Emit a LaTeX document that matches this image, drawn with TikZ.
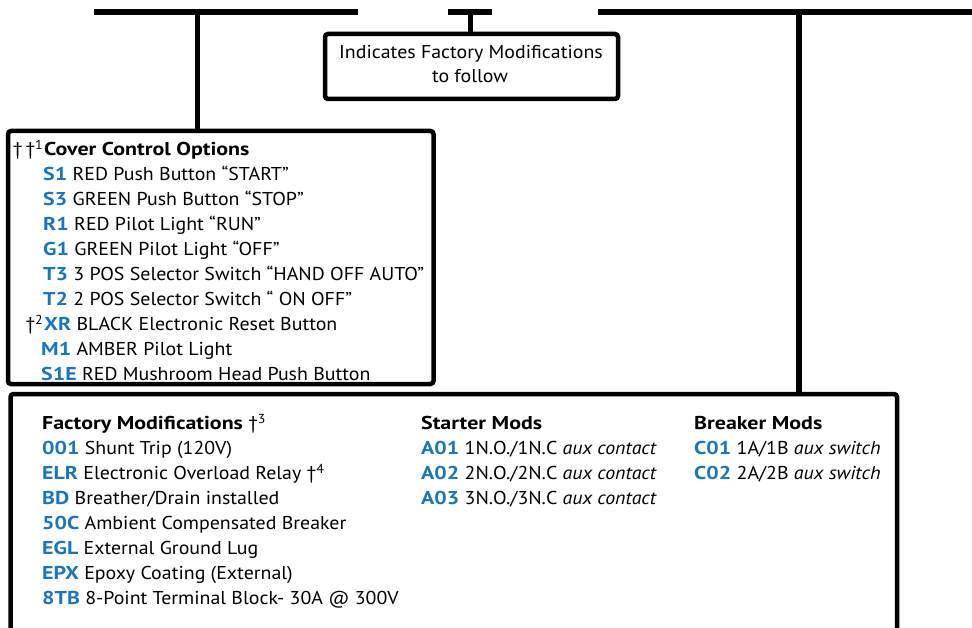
\documentclass[tikz,border=0pt]{standalone}
\usepackage{fontspec}
\setmainfont{PT Sans}[
  UprightFeatures={FakeStretch=1.07},
  ItalicFeatures={FakeStretch=1.07},
  BoldFeatures={FakeStretch=1.18}]
\definecolor{codeblue}{RGB}{27,117,187}
\newcommand{\cd}[1]{\textbf{\textcolor{codeblue}{#1}}}
\tikzset{
  bar/.style={line width=6pt},
  link/.style={line width=5.5pt},
  box/.style={draw, line width=4.5pt, rounded corners=3pt, inner sep=0pt},
  ln/.style={anchor=base west, inner sep=0pt, font=\fontsize{18.6}{22}\selectfont},
  tag/.style={anchor=base east, inner sep=0pt, font=\fontsize{18.6}{22}\selectfont},
  fl/.style={anchor=base west, inner sep=0pt, font=\fontsize{18.6}{22}\selectfont},
  nt/.style={anchor=base, inner sep=0pt, font=\fontsize{18.6}{22}\selectfont},
}
\begin{document}
\begin{tikzpicture}[x=1pt,y=-1pt]
\useasboundingbox (0,0) rectangle (972,628);
\clip (0,0) rectangle (972,628);
% top bars
\coordinate (bL1) at (94,11.7);  \coordinate (bL2) at (358,11.7);
\coordinate (bM1) at (448,11.7); \coordinate (bM2) at (492,11.7);
\coordinate (bR1) at (598,11.7); \coordinate (bR2) at (985,11.7);
\draw[bar] (bL1) -- (bL2);
\draw[bar] (bM1) -- (bM2);
\draw[bar] (bR1) -- (bR2);
% boxes
\node[box, minimum width=293pt, minimum height=65pt] (note) at (471.5,66.5) {};
\node[box, minimum width=425.5pt, minimum height=253pt] (cover) at (220.75,257.5) {};
\node[box, minimum width=886.5pt, minimum height=266pt] (fact) at (453.75,527) {};
% connectors
\coordinate (jL) at (197.5,11.7);
\coordinate (jM) at (470.5,11.7);
\coordinate (jR) at (799,11.7);
\draw[link] (jL) -- (jL |- cover.north);
\draw[link] (jM) -- (jM |- note.north);
\draw[link] (jR) -- (jR |- fact.north);
% note text
\node[nt] (n1) at (471,58.5) {Indicates Factory Modifications};
\node[nt] (n2) at (470,83) {to follow};
% cover control options
\node[ln] (cct) at (44,155.5) {\textbf{Cover Control Options}};
\node[tag] (cctag) at ([xshift=-0.5pt]cct.base west) {†\,†\textsuperscript{1}};
\node[ln] (c1) at (43,180.5) {\cd{S1} RED Push Button “START”};
\node[ln] (c2) at (43,205.5) {\cd{S3} GREEN Push Button “STOP”};
\node[ln] (c3) at (43,230.5) {\cd{R1} RED Pilot Light “RUN”};
\node[ln] (c4) at (43,255.5) {\cd{G1} GREEN Pilot Light “OFF”};
\node[ln] (c5) at (43,280.5) {\cd{T3} 3 POS Selector Switch “HAND OFF AUTO”};
\node[ln] (c6) at (43,305.5) {\cd{T2} 2 POS Selector Switch “ ON OFF”};
\node[ln] (c7) at (44,330.5) {\cd{XR} BLACK Electronic Reset Button};
\node[tag] (c7tag) at ([xshift=-0.5pt]c7.base west) {†\textsuperscript{2}};
\node[ln] (c8) at (41,355.5) {\cd{M1} AMBER Pilot Light};
\node[ln] (c9) at (41,380.5) {\cd{S1E} RED Mushroom Head Push Button};
% factory modifications
\node[fl] (ft) at (42,429.5) {\textbf{Factory Modifications} †\textsuperscript{3}};
\node[fl] (f1) at (42,454.5) {\cd{001} Shunt Trip (120V)};
\node[fl] (f2) at (42,479.5) {\cd{ELR} Electronic Overload Relay †\textsuperscript{4}};
\node[fl] (f3) at (42,504.5) {\cd{BD} Breather/Drain installed};
\node[fl] (f4) at (42,529.5) {\cd{50C} Ambient Compensated Breaker};
\node[fl] (f5) at (42,554.5) {\cd{EGL} External Ground Lug};
\node[fl] (f6) at (42,579.5) {\cd{EPX} Epoxy Coating (External)};
\node[fl] (f7) at (42,604.5) {\cd{8TB} 8-Point Terminal Block- 30A @ 300V};
% starter mods
\node[fl] (st) at (421,429.5) {\textbf{Starter Mods}};
\node[fl] (s1) at (421,454.5) {\cd{A01} 1N.O./1N.C \textit{aux contact}};
\node[fl] (s2) at (421,479.5) {\cd{A02} 2N.O./2N.C \textit{aux contact}};
\node[fl] (s3) at (421,504.5) {\cd{A03} 3N.O./3N.C \textit{aux contact}};
% breaker mods
\node[fl] (bt) at (694,429.5) {\textbf{Breaker Mods}};
\node[fl] (b1) at (694,454.5) {\cd{C01} 1A/1B \textit{aux switch}};
\node[fl] (b2) at (694,479.5) {\cd{C02} 2A/2B \textit{aux switch}};
\end{tikzpicture}
\end{document}
